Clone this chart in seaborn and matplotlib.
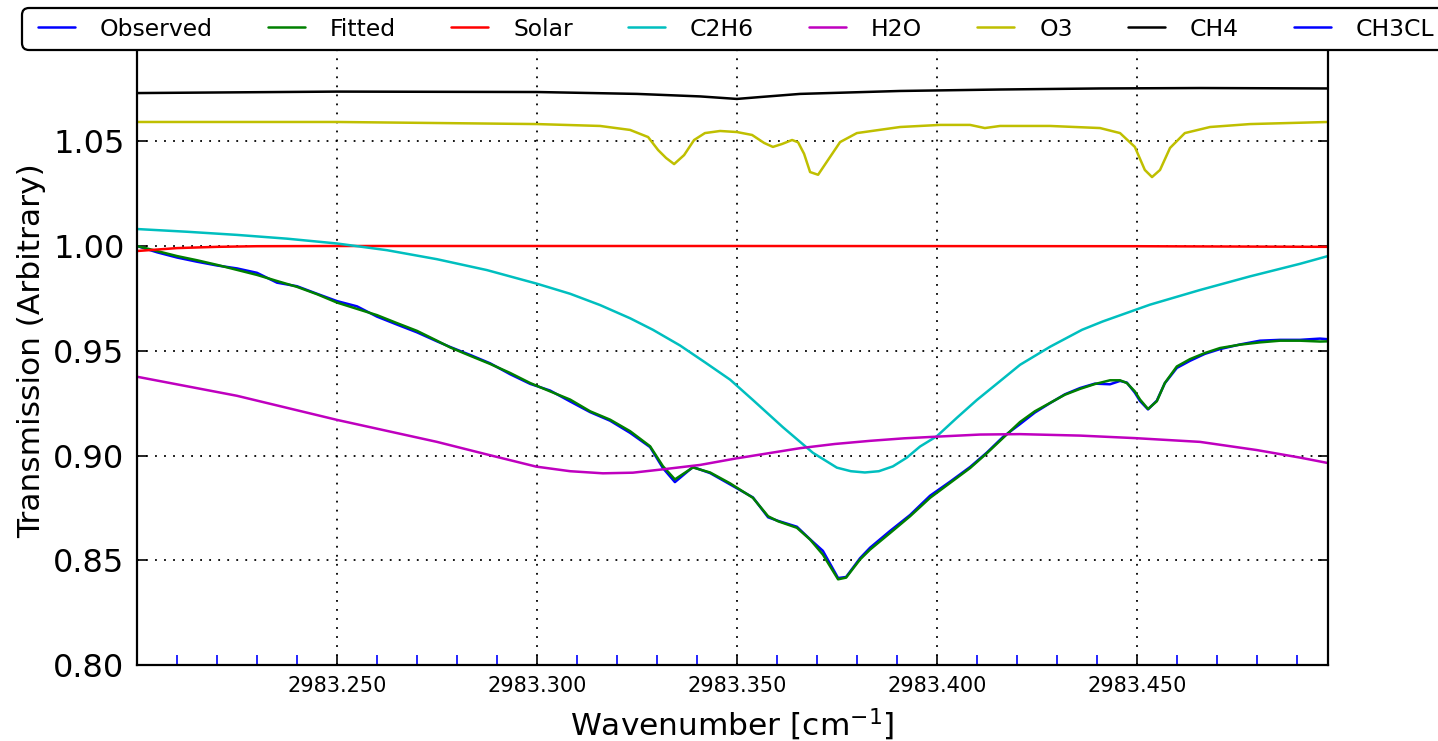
import matplotlib
matplotlib.use("Agg")
import matplotlib.pyplot as plt
import seaborn as sns
import pandas as pd
from matplotlib.lines import Line2D
from matplotlib.patches import FancyBboxPatch
from matplotlib.ticker import FixedLocator, FormatStrFormatter

# ---------------- data ----------------
wn_obs = [2983.2000, 2983.2050, 2983.2100, 2983.2150, 2983.2200, 2983.2250, 2983.2300, 2983.2350,
          2983.2400, 2983.2450, 2983.2500, 2983.2550, 2983.2600, 2983.2650, 2983.2700, 2983.2750,
          2983.2783, 2983.2833, 2983.2883, 2983.2933, 2983.2983, 2983.3033, 2983.3083, 2983.3133,
          2983.3183, 2983.3233, 2983.3283, 2983.3315, 2983.3345, 2983.3390, 2983.3433, 2983.3483,
          2983.3540, 2983.3578, 2983.3603, 2983.3650, 2983.3683, 2983.3715, 2983.3753, 2983.3773,
          2983.3808, 2983.3833, 2983.3883, 2983.3933, 2983.3983, 2983.4033, 2983.4083, 2983.4125,
          2983.4165, 2983.4208,
          2983.4245, 2983.4283, 2983.4320, 2983.4358, 2983.4395, 2983.4433, 2983.4458, 2983.4475,
          2983.4495, 2983.4508, 2983.4528, 2983.4550, 2983.4570, 2983.4600, 2983.4633, 2983.4670,
          2983.4708, 2983.4758, 2983.4808, 2983.4858, 2983.4908, 2983.4958, 2983.4978]

observed = [1.0000, 0.9970, 0.9945, 0.9925, 0.9907, 0.9893, 0.9872, 0.9825,
            0.9808, 0.9772, 0.9737, 0.9712, 0.9663, 0.9625, 0.9588, 0.9545,
            0.9518, 0.9480, 0.9440, 0.9388, 0.9342, 0.9310, 0.9258, 0.9207,
            0.9166, 0.9108, 0.9040, 0.8940, 0.8873, 0.8945, 0.8916, 0.8862,
            0.8800, 0.8705, 0.8688, 0.8660, 0.8600, 0.8545, 0.8415, 0.8420,
            0.8510, 0.8560, 0.8640, 0.8716, 0.8808, 0.8875, 0.8945, 0.9014,
            0.9088, 0.9150,
            0.9205, 0.9250, 0.9292, 0.9322, 0.9343, 0.9340, 0.9356, 0.9348,
            0.9300, 0.9260, 0.9220, 0.9262, 0.9345, 0.9418, 0.9452, 0.9485,
            0.9508, 0.9530, 0.9548, 0.9552, 0.9552, 0.9558, 0.9555]

fitted = [1.0000, 0.9976, 0.9952, 0.9932, 0.9910, 0.9886, 0.9862, 0.9833,
          0.9805, 0.9770, 0.9730, 0.9700, 0.9670, 0.9632, 0.9595, 0.9548,
          0.9516, 0.9476, 0.9437, 0.9394, 0.9346, 0.9306, 0.9267, 0.9211,
          0.9171, 0.9116, 0.9044, 0.8949, 0.8886, 0.8943, 0.8919, 0.8867,
          0.8798, 0.8710, 0.8686, 0.8655, 0.8599, 0.8527, 0.8409, 0.8417,
          0.8504, 0.8551, 0.8630, 0.8710, 0.8798, 0.8869, 0.8940, 0.9011,
          0.9083, 0.9160,
          0.9211, 0.9251, 0.9290, 0.9318, 0.9341, 0.9359, 0.9359, 0.9346,
          0.9306, 0.9267, 0.9222, 0.9259, 0.9346, 0.9425, 0.9460, 0.9489,
          0.9513, 0.9529, 0.9540, 0.9548, 0.9548, 0.9544, 0.9545]

wn_solar = [2983.2000, 2983.2050, 2983.2100, 2983.2200, 2983.2300, 2983.2500, 2983.3500,
            2983.4500, 2983.4978]
solar = [0.9976, 0.9983, 0.9990, 0.9996, 0.9999, 1.0000, 1.0000, 0.9999, 0.9996]

wn_c2h6 = [2983.2000, 2983.2125, 2983.2250, 2983.2375, 2983.2500, 2983.2625, 2983.2750, 2983.2875,
           2983.3000, 2983.3083, 2983.3158, 2983.3233, 2983.3290, 2983.3358, 2983.3420, 2983.3483,
           2983.3540, 2983.3615, 2983.3690, 2983.3750, 2983.3785, 2983.3820, 2983.3855, 2983.3890,
           2983.3925, 2983.3958, 2983.4000, 2983.4050, 2983.4100, 2983.4158, 2983.4208, 2983.4283,
           2983.4363, 2983.4415, 2983.4533, 2983.4658, 2983.4783, 2983.4908, 2983.4978]
c2h6 = [1.0081, 1.0068, 1.0053, 1.0035, 1.0012, 0.9980, 0.9937, 0.9885,
        0.9820, 0.9772, 0.9718, 0.9655, 0.9600, 0.9525, 0.9445, 0.9362,
        0.9265, 0.9135, 0.9013, 0.8942, 0.8925, 0.8919, 0.8925, 0.8948,
        0.8990, 0.9043, 0.9092, 0.9180, 0.9265, 0.9355, 0.9433, 0.9519,
        0.9600, 0.9640, 0.9720, 0.9790, 0.9855, 0.9915, 0.9952]

wn_h2o = [2983.2000, 2983.2250, 2983.2500, 2983.2750, 2983.2875, 2983.2998, 2983.3083, 2983.3165,
          2983.3240, 2983.3315, 2983.3408, 2983.3498, 2983.3583, 2983.3658, 2983.3745, 2983.3833,
          2983.3918, 2983.4000, 2983.4108, 2983.4208, 2983.4358, 2983.4495, 2983.4658, 2983.4800,
          2983.4908, 2983.4978]
h2o = [0.9376, 0.9285, 0.9170, 0.9065, 0.9005, 0.8947, 0.8925, 0.8915,
       0.8918, 0.8934, 0.8955, 0.8986, 0.9012, 0.9035, 0.9055, 0.9070,
       0.9082, 0.9090, 0.9100, 0.9102, 0.9095, 0.9083, 0.9065, 0.9026,
       0.8990, 0.8964]

wn_o3 = [2983.2000, 2983.2500, 2983.2750, 2983.3000, 2983.3158, 2983.3233, 2983.3278, 2983.3303,
         2983.3323, 2983.3343, 2983.3368, 2983.3393, 2983.3420, 2983.3458, 2983.3500, 2983.3538,
         2983.3568, 2983.3590, 2983.3613, 2983.3638, 2983.3653, 2983.3668, 2983.3683, 2983.3703,
         2983.3728, 2983.3758, 2983.3800, 2983.3908, 2983.4008, 2983.4083, 2983.4120, 2983.4158,
         2983.4283, 2983.4408, 2983.4458, 2983.4495, 2983.4520, 2983.4538, 2983.4558, 2983.4583,
         2983.4620, 2983.4683, 2983.4783, 2983.4978]
o3 = [1.0592, 1.0592, 1.0587, 1.0582, 1.0573, 1.0554, 1.0520, 1.0458,
      1.0420, 1.0391, 1.0434, 1.0506, 1.0539, 1.0549, 1.0544, 1.0530,
      1.0492, 1.0473, 1.0487, 1.0506, 1.0495, 1.0440, 1.0353, 1.0340,
      1.0411, 1.0496, 1.0539, 1.0568, 1.0578, 1.0578, 1.0563, 1.0573,
      1.0573, 1.0563, 1.0539, 1.0473, 1.0363, 1.0329, 1.0363, 1.0468,
      1.0539, 1.0568, 1.0582, 1.0592]

wn_ch4 = [2983.2000, 2983.2500, 2983.3000, 2983.3250, 2983.3408, 2983.3500, 2983.3558, 2983.3658,
          2983.3908, 2983.4158, 2983.4408, 2983.4658, 2983.4978]
ch4 = [1.0730, 1.0737, 1.0735, 1.0726, 1.0714, 1.0702, 1.0711, 1.0726,
       1.0740, 1.0747, 1.0752, 1.0754, 1.0752]

legend_labels = ["Observed", "Fitted", "Solar", "C2H6", "H2O", "O3", "CH4", "CH3CL"]
x_major = [2983.25, 2983.30, 2983.35, 2983.40, 2983.45]
x_minor = [2983.21, 2983.22, 2983.23, 2983.24, 2983.26, 2983.27, 2983.28, 2983.29,
           2983.31, 2983.32, 2983.33, 2983.34, 2983.36, 2983.37, 2983.38, 2983.39,
           2983.41, 2983.42, 2983.43, 2983.44, 2983.46, 2983.47, 2983.48, 2983.49]
y_major = [0.80, 0.85, 0.90, 0.95, 1.00, 1.05]

# ---------------- plotting ----------------
sns.set_style("white")
plt.rcParams["font.family"] = ["DejaVu Sans"]
plt.rcParams["text.color"] = "black"
plt.rcParams["axes.labelcolor"] = "black"
plt.rcParams["xtick.color"] = "black"
plt.rcParams["ytick.color"] = "black"

fig = plt.figure(figsize=(14.38, 7.41), dpi=100)
W, H = 1438.0, 741.0
ax = fig.add_axes([137 / W, 1 - 665 / H, (1328 - 137) / W, (665 - 36.5) / H])

series = [
    (wn_obs, observed, "b"),
    (wn_obs, fitted, "g"),
    (wn_solar, solar, "r"),
    (wn_c2h6, c2h6, "c"),
    (wn_h2o, h2o, "m"),
    (wn_o3, o3, "y"),
    (wn_ch4, ch4, "k"),
]
lw = 1.8
for (xs, ys, col), lab in zip(series, legend_labels):
    df = pd.DataFrame({"x": xs, "y": ys})
    sns.lineplot(data=df, x="x", y="y", ax=ax, color=col, lw=lw, label=lab,
                 sort=False, estimator=None)

ax.set_xlim(2983.2, 2983.4978)
ax.set_ylim(0.80, 1.10)

ax.xaxis.set_major_locator(FixedLocator(x_major))
ax.xaxis.set_minor_locator(FixedLocator(x_minor))
ax.yaxis.set_major_locator(FixedLocator(y_major))
ax.xaxis.set_major_formatter(FormatStrFormatter("%.3f"))
ax.yaxis.set_major_formatter(FormatStrFormatter("%.2f"))

ax.grid(True, which="major", color="k", linestyle=(0, (1, 4)), linewidth=1.3)
ax.tick_params(axis="both", which="major", direction="in", length=7, width=1.2,
               top=True, right=True, bottom=True, left=True, color="k", labelcolor="k")
ax.tick_params(axis="x", which="major", labelsize=15, pad=8)
ax.tick_params(axis="y", which="major", labelsize=23, pad=9)
ax.tick_params(axis="x", which="minor", direction="in", length=7, width=1.2,
               color="b", top=True, bottom=True)

for sp in ax.spines.values():
    sp.set_visible(True)
    sp.set_color("k")
    sp.set_linewidth(1.6)

ax.set_xlabel(r"Wavenumber [cm$^{-1}$]", fontsize=22.5, labelpad=8, color="k")
ax.set_ylabel("Transmission (Arbitrary)", fontsize=22.5, labelpad=5, color="k")

# legend frame (rounded box running off the right edge of the figure)
frame = FancyBboxPatch((0.22, (741 - 50) / 100.0), 14.6, 0.42,
                       boxstyle="round,pad=0,rounding_size=0.07",
                       transform=fig.dpi_scale_trans, facecolor="white",
                       edgecolor="black", linewidth=1.6, clip_on=False, zorder=9)
ax.add_artist(frame)

handles, labels = ax.get_legend_handles_labels()
handles = list(handles) + [Line2D([], [], color="b", lw=lw)]
labels = list(labels) + ["CH3CL"]
fs_px = 16.9 * 100 / 72.0
leg = ax.legend(handles, labels, ncol=8, loc="center left",
                bbox_to_anchor=(38 / W, 1 - 29 / H), bbox_transform=fig.transFigure,
                fontsize=16.9, handlelength=37 / fs_px, handletextpad=25 / fs_px,
                columnspacing=55 / fs_px,
                borderpad=0, borderaxespad=0, frameon=False)
leg.set_zorder(10)
for t in leg.get_texts():
    t.set_color("black")

fig.savefig("out.png", dpi=100)
